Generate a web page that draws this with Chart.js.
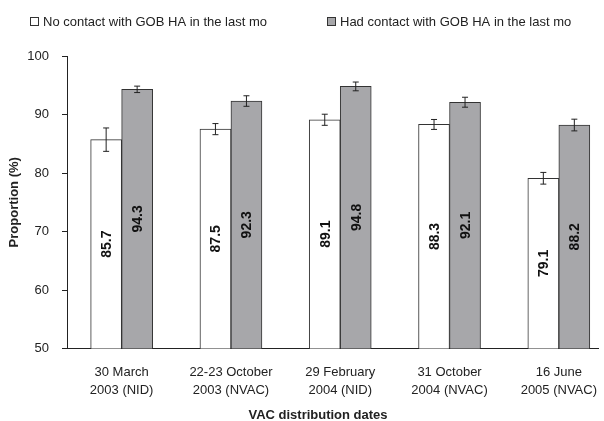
<!DOCTYPE html>
<html>
<head>
<meta charset="utf-8">
<script src="https://cdn.jsdelivr.net/npm/chart.js@4"></script>
<style>
  html, body { margin: 0; padding: 0; background: #fff; }
  #wrap { width: 604px; height: 421px; }
</style>
</head>
<body>
<div id="wrap"><canvas id="chart"></canvas></div>
<script>
// data
const categories = [
    ['30 March', '2003 (NID)'],
    ['22-23 October', '2003 (NVAC)'],
    ['29 February', '2004 (NID)'],
    ['31 October', '2004 (NVAC)'],
    ['16 June', '2005 (NVAC)']
];
const noContact = [85.7, 87.5, 89.1, 88.3, 79.1];
const noContactErr = [2.0, 0.95, 0.95, 0.85, 1.0];
const hadContact = [94.3, 92.3, 94.8, 92.1, 88.2];
const hadContactErr = [0.55, 0.9, 0.75, 0.85, 1.0];
const yTicks = [50, 60, 70, 80, 90, 100];
const legendLabels = ['No contact with GOB HA in the last mo', 'Had contact with GOB HA in the last mo'];
const xTitle = 'VAC distribution dates';
const yTitle = 'Proportion (%)';

const FONT = '"Liberation Sans", Arial, sans-serif';
const INK = '#222';

function toPoints(values) {
    return values.map((v, i) => ({ x: i + 1, y: v }));
}

// error bars, value labels, legend and x title
const extras = {
    id: 'extras',
    afterDatasetsDraw: function (chart) {
        const ctx = chart.ctx;
        const yScale = chart.scales.y;
        const bottom = chart.chartArea.bottom;
        const errs = [noContactErr, hadContactErr];
        ctx.save();
        chart.data.datasets.forEach((ds, d) => {
            const meta = chart.getDatasetMeta(d);
            meta.data.forEach((bar, i) => {
                const v = ds.data[i].y;
                // error bar
                const top = yScale.getPixelForValue(v + errs[d][i]);
                const bot = yScale.getPixelForValue(v - errs[d][i]);
                ctx.strokeStyle = INK;
                ctx.lineWidth = 1;
                ctx.beginPath();
                ctx.moveTo(bar.x, top);
                ctx.lineTo(bar.x, bot);
                ctx.moveTo(bar.x - 3, top);
                ctx.lineTo(bar.x + 3, top);
                ctx.moveTo(bar.x - 3, bot);
                ctx.lineTo(bar.x + 3, bot);
                ctx.stroke();
                // value label, rotated, in the middle of the visible bar
                ctx.save();
                ctx.translate(bar.x, (bar.y + bottom) / 2);
                ctx.rotate(-Math.PI / 2);
                ctx.fillStyle = '#111';
                ctx.font = 'bold 14px ' + FONT;
                ctx.textAlign = 'center';
                ctx.textBaseline = 'middle';
                ctx.fillText(v.toFixed(1), 0, 1);
                ctx.restore();
            });
        });

        // legend
        const legendX = [30, 327];
        ctx.font = '13px ' + FONT;
        ctx.textBaseline = 'middle';
        ctx.textAlign = 'left';
        chart.data.datasets.forEach((ds, d) => {
            ctx.fillStyle = ds.backgroundColor;
            ctx.fillRect(legendX[d] + 0.5, 17.5, 8, 8);
            ctx.strokeStyle = '#333';
            ctx.strokeRect(legendX[d] + 0.5, 17.5, 8, 8);
            ctx.fillStyle = INK;
            ctx.fillText(legendLabels[d], legendX[d] + 13, 22);
        });

        // x axis title
        ctx.font = 'bold 13px ' + FONT;
        ctx.textAlign = 'center';
        ctx.fillText(xTitle, 318, 415);
        ctx.restore();
    }
};

new Chart(document.getElementById('chart'), {
    type: 'bar',
    data: {
        datasets: [{
            label: legendLabels[0],
            data: toPoints(noContact),
            backgroundColor: '#ffffff',
            borderColor: '#333',
            borderWidth: 1,
            barThickness: 31
        }, {
            label: legendLabels[1],
            data: toPoints(hadContact),
            backgroundColor: '#a7a7aa',
            borderColor: '#333',
            borderWidth: 1,
            barThickness: 31
        }]
    },
    options: {
        responsive: true,
        maintainAspectRatio: false,
        animation: false,
        layout: { padding: { top: 56, left: 0, right: 0, bottom: 0 } },
        plugins: {
            legend: { display: false },
            tooltip: { enabled: false }
        },
        scales: {
            x: {
                type: 'linear',
                min: 0.5,
                max: 5.365,
                offset: false,
                afterBuildTicks: function (scale) {
                    scale.ticks = categories.map((c, i) => ({ value: i + 1 }));
                },
                afterFit: function (scale) {
                    scale.height = 72.5;
                },
                grid: { display: false, offset: false },
                border: { display: true, color: INK, width: 1 },
                ticks: {
                    autoSkip: false,
                    maxRotation: 0,
                    padding: 7,
                    color: INK,
                    font: { family: FONT, size: 13, lineHeight: 1.38 },
                    callback: function (value) {
                        return categories[value - 1];
                    }
                }
            },
            y: {
                min: 50,
                max: 100,
                afterBuildTicks: function (scale) {
                    scale.ticks = yTicks.map(v => ({ value: v }));
                },
                afterFit: function (scale) {
                    scale.width = 67;
                },
                grid: {
                    drawOnChartArea: false,
                    drawTicks: true,
                    tickLength: 5,
                    color: INK
                },
                border: { display: true, color: INK, width: 1 },
                ticks: {
                    padding: 13,
                    color: INK,
                    font: { family: FONT, size: 13 }
                },
                title: {
                    display: true,
                    text: yTitle,
                    color: INK,
                    font: { family: FONT, size: 13, weight: 'bold' },
                    padding: { top: 7, bottom: 0 }
                }
            }
        }
    },
    plugins: [extras]
});
</script>
</body>
</html>
